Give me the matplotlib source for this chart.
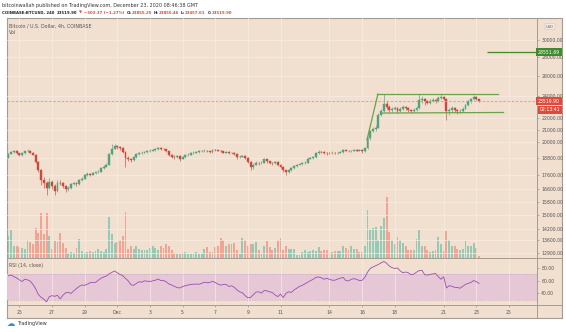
import matplotlib.pyplot as plt
from matplotlib.lines import Line2D
from matplotlib.ticker import NullLocator
from matplotlib.offsetbox import TextArea, HPacker, AnnotationBbox

# 4h candles, first bar Nov 24 08:00 (Coinbase BTCUSD)
first_open = 18800
closes = [
    19100, 19250, 19300, 19150, 19000, 19150, 19300, 19350, 19200, 19050,
    18500, 17900, 17200, 17000, 16700, 17100, 16800, 16500, 17050, 17000,
    16800, 16600, 16700, 16950, 17000, 16950, 17200, 17300, 17550, 17650,
    17600, 17700, 17750, 17800, 18050, 18150, 18300, 19100, 19500, 19700,
    19600, 19550, 19250, 18800, 18700, 18650, 18850, 19100, 19150, 19200,
    19250, 19300, 19350, 19400, 19450, 19550, 19500, 19450, 19300, 19050,
    18900, 18850, 18950, 18750, 18850, 19000, 19050, 19150, 19200, 19250,
    19300, 19320, 19350, 19300, 19250, 19400, 19380, 19350, 19300, 19200,
    19250, 19150, 19200, 19100, 18850, 18900, 18950, 18800, 18500, 18100,
    18300, 18450, 18400, 18450, 18700, 18550, 18450, 18400, 18500, 18300,
    18150, 17900, 17750, 17900, 18050, 18200, 18300, 18350, 18400, 18450,
    18750, 18800, 18850, 19150, 19250, 19230, 19200, 19180, 19150, 19200,
    19150, 19200, 19250, 19400, 19350, 19300, 19350, 19400, 19350, 19400,
    19300, 19550, 20300, 20900, 21050, 21200, 22300, 22600, 23300, 23000,
    22700, 22800, 22900, 22650, 22800, 22950, 22900, 22700, 22600, 22700,
    22900, 23600, 23700, 23500, 23400, 23550, 23650, 23500, 23800, 23900,
    23750, 22600, 22700, 22900, 22700, 22600, 22650, 22850, 23200, 23500,
    23700, 23950, 23700, 23520,
]
highs = [
    19180, 19330, 19420, 19360, 19200, 19220, 19350, 19450, 19400, 19260,
    19100, 18560, 17980, 17450, 17150, 17350, 17250, 16950, 17200, 17250,
    17080, 16880, 16800, 17020, 17120, 17080, 17280, 17400, 17620, 17750,
    17720, 17780, 17830, 17900, 18120, 18250, 18400, 19200, 19900, 19850,
    19800, 19700, 19600, 19300, 18950, 18800, 18950, 19200, 19250, 19300,
    19350, 19380, 19450, 19480, 19550, 19650, 19620, 19560, 19500, 19350,
    19100, 18980, 19050, 19000, 18920, 19080, 19150, 19220, 19300, 19350,
    19380, 19400, 19450, 19420, 19350, 19480, 19460, 19430, 19400, 19350,
    19320, 19300, 19280, 19250, 19150, 18980, 19050, 19000, 18850, 18550,
    18400, 18550, 18520, 18550, 18800, 18750, 18600, 18500, 18580, 18550,
    18350, 18200, 17950, 17980, 18120, 18280, 18380, 18450, 18480, 18550,
    18850, 18900, 18950, 19250, 19400, 19350, 19300, 19280, 19250, 19300,
    19280, 19280, 19330, 19500, 19480, 19420, 19430, 19480, 19450, 19480,
    19450, 19650, 20450, 21000, 21250, 21400, 22450, 22800, 24200, 23500,
    23150, 23000, 23100, 23000, 23000, 23150, 23100, 23000, 22850, 22900,
    23050, 24200, 24000, 23800, 23650, 23750, 23850, 23750, 24000, 24250,
    24050, 23800, 22900, 23050, 22950, 22800, 22800, 22950, 23300, 23600,
    23850, 24100, 24000, 23750,
]
lows = [
    18760, 19060, 19200, 19100, 18920, 18960, 19120, 19260, 19150, 18980,
    18400, 17750, 16900, 16700, 16200, 16600, 16650, 16250, 16450, 16900,
    16720, 16450, 16520, 16650, 16880, 16850, 16900, 17150, 17260, 17480,
    17520, 17550, 17650, 17700, 17760, 18000, 18100, 18250, 19050, 19450,
    19500, 19400, 19150, 18100, 18550, 18500, 18600, 18800, 19050, 19100,
    19150, 19200, 19250, 19300, 19350, 19400, 19420, 19380, 19250, 18950,
    18800, 18750, 18800, 18600, 18700, 18800, 18950, 19000, 19100, 19150,
    19200, 19250, 19280, 19250, 19200, 19200, 19320, 19300, 19250, 19150,
    19150, 19100, 19100, 19050, 18750, 18800, 18850, 18700, 18400, 17900,
    18000, 18250, 18300, 18350, 18400, 18450, 18350, 18300, 18350, 18200,
    18050, 17800, 17600, 17700, 17850, 18000, 18150, 18250, 18300, 18350,
    18400, 18700, 18750, 18800, 19100, 19150, 19100, 19050, 19080, 19100,
    19100, 19100, 19150, 19200, 19300, 19250, 19250, 19300, 19300, 19300,
    19200, 19250, 19500, 20200, 20800, 20950, 21150, 22200, 22500, 22800,
    22500, 22550, 22700, 22450, 22550, 22700, 22750, 22550, 22450, 22500,
    22650, 22850, 23400, 23200, 23250, 23300, 23450, 23350, 23450, 23700,
    23600, 21850, 22300, 22550, 22500, 22400, 22450, 22550, 22800, 23100,
    23400, 23600, 23600, 23450,
]
volumes = [
    2200, 2800, 1200, 1200, 1100, 1000, 900, 1800, 1600, 1400,
    3000, 2500, 4500, 2400, 4500, 2200, 900, 1700, 1600, 2500,
    1500, 1000, 500, 600, 500, 1000, 1900, 700, 500, 600,
    700, 600, 700, 900, 700, 600, 900, 4100, 2400, 1500,
    1600, 1800, 2200, 4600, 900, 1200, 900, 1200, 900, 800,
    800, 800, 1000, 1200, 1000, 800, 1200, 1000, 1400, 1200,
    800, 500, 400, 400, 500, 600, 400, 400, 400, 600,
    400, 400, 900, 1100, 600, 600, 1100, 1200, 2000, 1800,
    1200, 1400, 1400, 1500, 800, 400, 2000, 1800, 1200, 1400,
    1400, 1600, 800, 400, 1200, 1700, 1100, 800, 1000, 1800,
    2000, 800, 1200, 900, 900, 900, 300, 300, 600, 800,
    600, 700, 800, 700, 1100, 700, 800, 800, 600, 600,
    700, 700, 700, 1200, 1000, 800, 1200, 900, 900, 600,
    600, 1200, 4800, 2800, 3000, 3100, 1800, 3200, 4000, 6100,
    2600, 1800, 1400, 2100, 1800, 1500, 1200, 800, 800, 800,
    1900, 2800, 1200, 1200, 800, 600, 700, 800, 2100, 1400,
    700, 2700, 1800, 1200, 1200, 900, 800, 900, 1700, 1200,
    1200, 1500, 1000, 200,
]
rsi = [
    67.4, 68.5, 66, 64, 61, 58.5, 62, 61, 59, 54,
    47, 38, 34, 31, 27, 35, 36.5, 35.5, 37, 31.5,
    37, 41, 41.5, 40, 44, 47.5, 51, 53, 52.5, 54.5,
    56.5, 57.2, 57, 60.5, 63.5, 65.5, 67, 70.5, 72.6, 74.8,
    72, 69.5, 67.5, 63.5, 59.5, 53.5, 52.5, 55.5, 58, 57.5,
    59.5, 59, 58.5, 59.5, 60.5, 62.3, 60, 60, 58, 54.5,
    53, 51, 49, 48.5, 50.5, 52, 53, 53.8, 54.3, 54.5,
    54.2, 55.5, 57.5, 56.5, 57, 58.8, 57, 54.5, 52.8, 54,
    54, 50.8, 51.8, 49.5, 45.5, 42.5, 41, 36.5, 33.2, 33.8,
    38, 42, 42.5, 40.5, 44.5, 44, 42.5, 41.3, 37.6, 35,
    39, 33.6, 40, 42.5, 41.5, 45.5, 48, 51, 52.5, 55,
    57.5, 59.8, 61.8, 65, 65.5, 64.3, 62, 63.4, 62, 60.5,
    60.5, 62.2, 63.5, 64.9, 60, 59.5, 61.8, 63, 61.8, 60,
    60.3, 65, 73, 78.8, 81, 83, 85, 87.5, 89.5, 87,
    82.5, 80, 78.8, 79.5, 75, 72, 73.3, 72, 69, 70,
    73, 75.5, 76, 69, 68.5, 69.5, 70.3, 71, 66, 62,
    66, 48.5, 52, 51, 49.5, 49.3, 48, 51, 54, 55.6,
    57, 60, 58.2, 55.6,
]

day_labels = ["25", "27", "29", "Dec", "3", "5", "7", "9", "11", "14", "16", "18", "21", "23", "25"]
day_offsets = [0, 2, 4, 6, 8, 10, 12, 14, 16, 19, 21, 23, 26, 28, 30]  # days after Nov 25
bars_per_day = 6
bars_before_nov25 = 4

price_ticks = [30000, 28000, 26000, 24000, 22000, 21000, 20000, 18800, 17600,
               16600, 15800, 15000, 14200, 13600, 12900]
rsi_ticks = [40, 60, 80]

last_price = 23519.90
target_price = 28551.69
target_from = 176
pole_x, pole_y = [131.8, 135.8], [20200, 24190]
top_x, top_y = [135.5, 180], [24190, 24190]
bot_x, bot_y = [137.5, 182], [22450, 22500]

BG = "#f1dfcf"
GRID = "#f7ece3"
UP, DOWN = "#53a27a", "#c9493c"
VUP, VDOWN = "#93cab5", "#f2a393"
TXT = "#555555"
LINE = "#a39c96"

W, H = 566, 332
fig = plt.figure(figsize=(W / 100, H / 100), dpi=100)


def rect(x0, y0, x1, y1):
    return [x0 / W, 1 - y1 / H, (x1 - x0) / W, (y1 - y0) / H]


def fx(px):
    return px / W


def fy(py):
    return 1 - py / H


frame = fig.add_axes(rect(7, 18, 562, 318))
frame.set_facecolor(BG)
frame.set_xticks([])
frame.set_yticks([])
for s in frame.spines.values():
    s.set_color(LINE)
    s.set_linewidth(0.8)
frame.set_zorder(0)

axv = fig.add_axes(rect(7, 18, 537, 258))
ax = fig.add_axes(rect(7, 18, 537, 258), sharex=axv)
axr = fig.add_axes(rect(7, 258, 537, 305), sharex=axv)
axv.set_zorder(1)
ax.set_zorder(2)
axr.set_zorder(1)
for a in (axv, ax, axr):
    a.set_facecolor("none")
    for s in a.spines.values():
        s.set_visible(False)

n = len(closes)
idx = list(range(n))
opens = [first_open] + closes[:-1]
up = [c >= o for o, c in zip(opens, closes)]
cols = [UP if u else DOWN for u in up]

# volume
axv.bar(idx, volumes, width=0.7, color=[VUP if u else VDOWN for u in up], linewidth=0)
axv.set_ylim(0, 24100)
axv.set_yticks([])
axv.set_xlim(-0.55, 194.3)

# candles
ax.vlines(idx, lows, highs, color=cols, linewidth=0.45)
body_lo = [min(o, c) for o, c in zip(opens, closes)]
body_h = [abs(c - o) for o, c in zip(opens, closes)]
ax.bar(idx, body_h, bottom=body_lo, width=0.68, color=cols, edgecolor=cols, linewidth=0.3)
ax.set_yscale("log")
ax.set_ylim(12650, 32700)
ax.set_yticks(price_ticks, [f"{p:.2f}" for p in price_ticks])
ax.yaxis.set_minor_locator(NullLocator())
ax.yaxis.tick_right()
ax.tick_params(axis="y", labelsize=3.3, labelcolor=TXT, length=1.5, width=0.4,
               color="#8a847e", pad=1.5)
ax.set_axisbelow(True)
ax.grid(axis="y", color=GRID, linewidth=0.5)

# drawings
ax.axhline(last_price, color="#ee8f80", linewidth=0.6, linestyle=(0, (3, 2)))
ax.hlines(target_price, target_from, 194.3, color="#3f8a2d", linewidth=0.9)
ax.plot(pole_x, pole_y, color="#6aa34a", linewidth=0.9)
ax.plot(top_x, top_y, color="#6aa34a", linewidth=0.9)
ax.plot(bot_x, bot_y, color="#6aa34a", linewidth=0.9)

ytr = ax.get_yaxis_transform()
ax.text(1.002, target_price, f"{target_price:.2f}", transform=ytr, ha="left", va="center",
        fontsize=3.3, color="white", clip_on=False,
        bbox=dict(boxstyle="square,pad=0.35", fc="#3f8a2d", ec="none"))
ax.text(1.002, last_price, f"{last_price:.2f}", transform=ytr, ha="left", va="center",
        fontsize=3.3, color="white", clip_on=False,
        bbox=dict(boxstyle="square,pad=0.35", fc="#e0493b", ec="none"))
ax.annotate("02:13:41", xy=(1.002, last_price), xycoords=ytr, xytext=(1.2, -6),
            textcoords="offset points", ha="left", va="center", fontsize=3.3,
            color="white", annotation_clip=False,
            bbox=dict(boxstyle="square,pad=0.35", fc="#e0493b", ec="none"))

# x ticks / grid
tick_idx = [bars_before_nov25 + d * bars_per_day for d in day_offsets]
axr.set_xticks(tick_idx, day_labels)
axv.grid(axis="x", color=GRID, linewidth=0.5)
axr.grid(axis="x", color=GRID, linewidth=0.5)
axv.tick_params(axis="x", labelbottom=False, length=0)
ax.tick_params(axis="x", labelbottom=False, length=0)
axr.tick_params(axis="x", labelsize=3.3, labelcolor=TXT, length=1.5, width=0.4,
                color="#8a847e", pad=2)

# RSI
axr.axhspan(30, 70, color="#e5c7d6", linewidth=0)
axr.axhline(70, color="#c9a3bd", linewidth=0.4, linestyle=(0, (3, 2)))
axr.axhline(30, color="#c9a3bd", linewidth=0.4, linestyle=(0, (3, 2)))
axr.plot(idx, rsi, color="#9b4db5", linewidth=0.6)
axr.set_ylim(22, 95)
axr.set_yticks(rsi_ticks, [f"{v:.2f}" for v in rsi_ticks])
axr.yaxis.tick_right()
axr.tick_params(axis="y", labelsize=3.3, labelcolor=TXT, length=1.5, width=0.4,
                color="#8a847e", pad=1.5)

# pane separators
for x0, y0, x1, y1 in [(537, 18, 537, 318), (7, 258, 562, 258), (7, 305, 562, 305)]:
    fig.add_artist(Line2D([fx(x0), fx(x1)], [fy(y0), fy(y1)], color=LINE, linewidth=0.7))

# legends inside panes
fig.text(fx(9), fy(25.5), "Bitcoin / U.S. Dollar, 4h, COINBASE", fontsize=3.4, color=TXT, va="center")
fig.text(fx(9), fy(33), "Vol", fontsize=3.4, color=TXT, va="center")
fig.text(fx(9), fy(265.5), "RSI (14, close)", fontsize=3.4, color=TXT, va="center")
fig.text(fx(550), fy(26.5), "USD", fontsize=2.6, color=TXT, ha="center", va="center",
         bbox=dict(boxstyle="round,pad=0.3", fc="#f7ece3", ec="#cfc5bc", lw=0.4))

# header
fig.text(fx(2), fy(5.5), "bitcoinwallah published on TradingView.com, December 23, 2020 08:46:38 GMT",
         fontsize=3.5, color="#333333", va="center")
DARK, RED = "#1e1e1e", "#e0493b"


def seg(parts):
    return HPacker(children=[TextArea(t, textprops=dict(color=c, fontsize=2.8, fontweight="bold"))
                             for t, c in parts], sep=0, pad=0, align="baseline")


groups = [
    seg([("COINBASE:BTCUSD, 240", DARK)]),
    seg([("23519.90", DARK)]),
    seg([("\u25bc", RED)]),
    seg([("\u2212303.37 (\u22121.27%)", RED)]),
    seg([("O:", DARK), ("23855.25", RED)]),
    seg([("H:", DARK), ("23855.46", RED)]),
    seg([("L:", DARK), ("23457.61", RED)]),
    seg([("C:", DARK), ("23519.90", RED)]),
]
line2 = HPacker(children=groups, sep=1.5, pad=0, align="baseline")
fig.add_artist(AnnotationBbox(line2, (fx(2), fy(12.5)), xycoords="figure fraction",
                              box_alignment=(0, 0.5), frameon=False, pad=0))

# footer logo
fig.text(fx(7), fy(324), "\u2601", fontsize=6, color="#2a8fd8", va="center")
fig.text(fx(17), fy(324), "TradingView", fontsize=3.5, color="#333333", va="center")

fig.savefig("out.png", dpi=100, facecolor="white")
